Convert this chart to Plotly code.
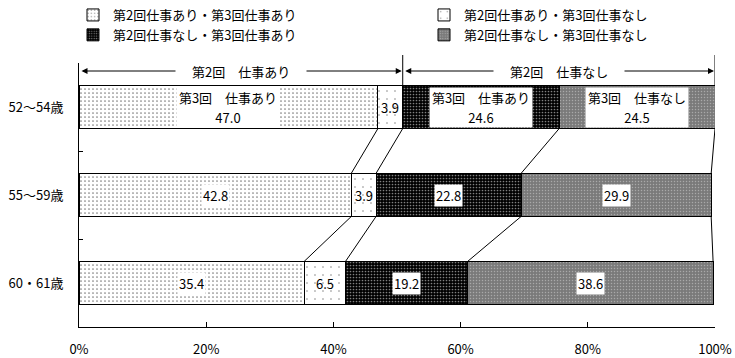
import plotly.graph_objects as go

categories = ["52～54歳", "55～59歳", "60・61歳"]
series_names = ["第2回仕事あり・第3回仕事あり", "第2回仕事あり・第3回仕事なし",
                "第2回仕事なし・第3回仕事あり", "第2回仕事なし・第3回仕事なし"]
yes_yes = [47.0, 42.8, 35.4]
yes_no = [3.9, 3.9, 6.5]
no_yes = [24.6, 22.8, 19.2]
no_no = [24.5, 29.9, 38.6]
x_ticks = [0, 20, 40, 60, 80, 100]
group_labels = ["第2回　仕事あり", "第2回　仕事なし"]
sub_labels = ["第3回　仕事あり", None, "第3回　仕事あり", "第3回　仕事なし"]

series = [yes_yes, yes_no, no_yes, no_no]
FONT = "Noto Sans CJK JP"
BW = 0.49
half = BW / 2

patterns = [
    dict(shape=".", fgcolor="black", bgcolor="white", size=4, solidity=0.14),
    dict(shape=".", fgcolor="black", bgcolor="white", size=8, solidity=0.03),
    dict(shape=".", fgcolor="white", bgcolor="black", size=3, solidity=0.25),
    dict(shape=".", fgcolor="#d8d8d8", bgcolor="#7a7a7a", size=3, solidity=0.2),
]
legends = ["legend", "legend2", "legend", "legend2"]

fig = go.Figure()
for j, vals in enumerate(series):
    fig.add_trace(go.Bar(
        y=categories, x=vals, name=series_names[j], orientation="h",
        width=BW,
        marker=dict(color=patterns[j]["bgcolor"], pattern=patterns[j],
                    line=dict(color="black", width=1)),
        legend=legends[j], hoverinfo="skip",
    ))

# cumulative positions
cums = []
for i in range(len(categories)):
    c = [0.0]
    for j in range(len(series)):
        c.append(c[-1] + series[j][i])
    cums.append(c)

annotations = []
for i, cat in enumerate(categories):
    for j in range(len(series)):
        v = series[j][i]
        xm = cums[i][j] + v / 2
        txt = f"{v:.1f}"
        fnt = dict(family=FONT, size=13, color="black")
        if i == 0 and sub_labels[j]:
            annotations.append(dict(
                x=xm, y=cat, xref="x", yref="y", text=sub_labels[j], showarrow=False,
                font=fnt, bgcolor="white", borderpad=0, width=102, height=19, yshift=9.5,
            ))
            annotations.append(dict(
                x=xm, y=cat, xref="x", yref="y", text=txt, showarrow=False,
                font=fnt, bgcolor="white", borderpad=0, width=102, height=20, yshift=-10,
            ))
        else:
            annotations.append(dict(
                x=xm, y=cat, xref="x", yref="y", text=txt, showarrow=False,
                font=fnt, bgcolor="rgba(0,0,0,0)" if j == 1 else "white", borderpad=1,
            ))

# group brackets (top)
arrow_y = -0.5 + 8 / 88
spans = [(cums[0][0], cums[0][2]), (cums[0][2], cums[0][4])]
for (a, b), lab in zip(spans, group_labels):
    annotations.append(dict(
        x=b, y=arrow_y, ax=a, ay=arrow_y, xref="x", yref="y", axref="x", ayref="y",
        text="", showarrow=True, arrowside="end+start", arrowhead=2, startarrowhead=2,
        arrowsize=1.2, arrowwidth=1, arrowcolor="black", standoff=1, startstandoff=1,
    ))
    annotations.append(dict(
        x=(a + b) / 2, y=arrow_y, xref="x", yref="y",
        text="\u3000 " + lab + "\u3000 ", showarrow=False, bgcolor="white",
        font=dict(family=FONT, size=13, color="black"), borderpad=0,
    ))

shapes = []
# connector lines between bars
for i in range(len(categories) - 1):
    for k in range(1, len(series) + 1):
        shapes.append(dict(type="line", xref="x", yref="y",
                           x0=cums[i][k], y0=i + half, x1=cums[i + 1][k], y1=i + 1 - half,
                           line=dict(color="black", width=1)))
# bracket verticals
ncat = len(categories)
bar_top_paper = (ncat - 0.5) / ncat + half / ncat
for k in (2, 4):
    shapes.append(dict(type="line", xref="x", yref="paper",
                       x0=cums[0][k], x1=cums[0][k], y0=1 + 8 / 264, y1=bar_top_paper,
                       line=dict(color="black", width=1)))

leg_common = dict(yref="container", y=1.0 + 10 / 358, yanchor="top", xref="container",
                  xanchor="left", font=dict(family=FONT, size=13), itemwidth=30,
                  tracegroupgap=0, traceorder="normal", bgcolor="rgba(0,0,0,0)")

fig.update_layout(
    width=735, height=358, barmode="stack",
    margin=dict(l=79, r=20, t=63, b=31, autoexpand=False),
    plot_bgcolor="white", paper_bgcolor="white",
    font=dict(family=FONT, size=13, color="black"),
    annotations=annotations, shapes=shapes,
    legend=dict(x=73 / 735, **leg_common),
    legend2=dict(x=424 / 735, **leg_common),
    xaxis=dict(range=[0, 100], tickvals=x_ticks, ticktext=[f"{t}%" for t in x_ticks],
               ticks="inside", ticklen=5, tickcolor="black", showline=True,
               linecolor="black", linewidth=1, showgrid=False, zeroline=False,
               ticklabelstandoff=10, tickfont=dict(size=13)),
    yaxis=dict(type="category", categoryorder="array", categoryarray=categories,
               range=[2.5, -0.5], tickson="boundaries", ticks="inside", ticklen=4,
               tickcolor="black", showline=True, linecolor="black", linewidth=1,
               showgrid=False, ticklabelstandoff=12, tickfont=dict(size=13)),
)

fig.write_html("out.html", config={"displayModeBar": False},
               post_script="document.body.style.margin='0';document.body.style.overflow='hidden';")
